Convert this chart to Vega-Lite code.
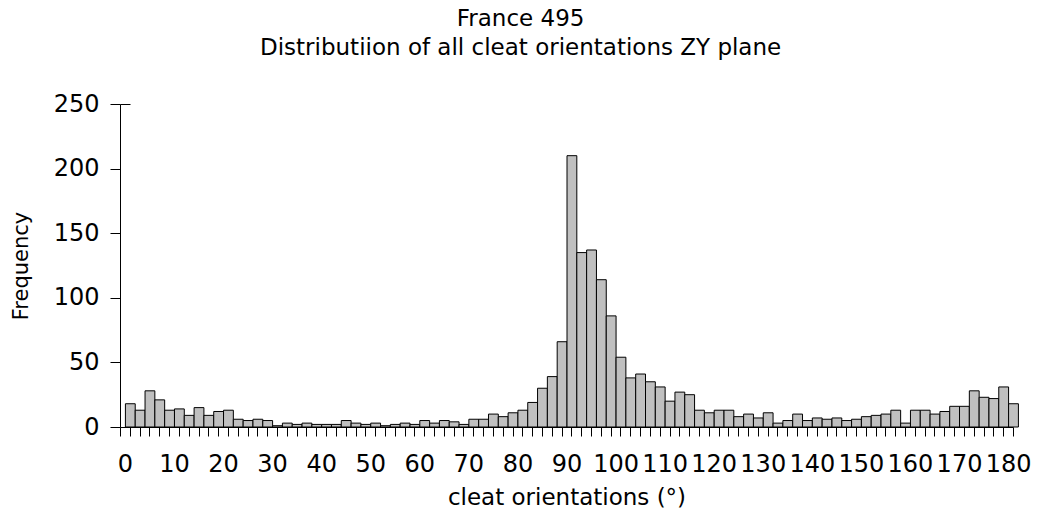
{
  "$schema": "https://vega.github.io/schema/vega-lite/v6.json",
  "autosize": "none",
  "width": 893,
  "height": 323,
  "padding": {"left": 120, "top": 104, "right": 26, "bottom": 88},
  "background": "white",
  "title": {
    "text": ["France 495", "Distributiion of all cleat orientations ZY plane"],
    "font": "DejaVu Sans",
    "fontSize": 23,
    "fontWeight": "normal",
    "lineHeight": 29,
    "color": "black",
    "anchor": "middle",
    "frame": "bounds",
    "offset": 32
  },
  "data": {
    "values": [
      {"o": 0, "n": 18}, {"o": 2, "n": 13}, {"o": 4, "n": 28}, {"o": 6, "n": 21}, {"o": 8, "n": 13},
      {"o": 10, "n": 14}, {"o": 12, "n": 9}, {"o": 14, "n": 15}, {"o": 16, "n": 9}, {"o": 18, "n": 12},
      {"o": 20, "n": 13}, {"o": 22, "n": 6}, {"o": 24, "n": 5}, {"o": 26, "n": 6}, {"o": 28, "n": 5},
      {"o": 30, "n": 1}, {"o": 32, "n": 3}, {"o": 34, "n": 2}, {"o": 36, "n": 3}, {"o": 38, "n": 2},
      {"o": 40, "n": 2}, {"o": 42, "n": 2}, {"o": 44, "n": 5}, {"o": 46, "n": 3}, {"o": 48, "n": 2},
      {"o": 50, "n": 3}, {"o": 52, "n": 1}, {"o": 54, "n": 2}, {"o": 56, "n": 3}, {"o": 58, "n": 2},
      {"o": 60, "n": 5}, {"o": 62, "n": 3}, {"o": 64, "n": 5}, {"o": 66, "n": 4}, {"o": 68, "n": 2},
      {"o": 70, "n": 6}, {"o": 72, "n": 6}, {"o": 74, "n": 10}, {"o": 76, "n": 8}, {"o": 78, "n": 11},
      {"o": 80, "n": 13}, {"o": 82, "n": 19}, {"o": 84, "n": 30}, {"o": 86, "n": 39}, {"o": 88, "n": 66},
      {"o": 90, "n": 210}, {"o": 92, "n": 135}, {"o": 94, "n": 137}, {"o": 96, "n": 114}, {"o": 98, "n": 86},
      {"o": 100, "n": 54}, {"o": 102, "n": 38}, {"o": 104, "n": 41}, {"o": 106, "n": 35}, {"o": 108, "n": 31},
      {"o": 110, "n": 20}, {"o": 112, "n": 27}, {"o": 114, "n": 25}, {"o": 116, "n": 13}, {"o": 118, "n": 11},
      {"o": 120, "n": 13}, {"o": 122, "n": 13}, {"o": 124, "n": 8}, {"o": 126, "n": 10}, {"o": 128, "n": 7},
      {"o": 130, "n": 11}, {"o": 132, "n": 3}, {"o": 134, "n": 5}, {"o": 136, "n": 10}, {"o": 138, "n": 5},
      {"o": 140, "n": 7}, {"o": 142, "n": 6}, {"o": 144, "n": 7}, {"o": 146, "n": 5}, {"o": 148, "n": 6},
      {"o": 150, "n": 8}, {"o": 152, "n": 9}, {"o": 154, "n": 10}, {"o": 156, "n": 13}, {"o": 158, "n": 3},
      {"o": 160, "n": 13}, {"o": 162, "n": 13}, {"o": 164, "n": 10}, {"o": 166, "n": 12}, {"o": 168, "n": 16},
      {"o": 170, "n": 16}, {"o": 172, "n": 28}, {"o": 174, "n": 23}, {"o": 176, "n": 22}, {"o": 178, "n": 31},
      {"o": 180, "n": 18}
    ]
  },
  "encoding": {
    "x": {
      "field": "o",
      "type": "quantitative",
      "bin": {"extent": [-1, 181], "step": 2},
      "scale": {"domain": [-1, 181], "nice": false, "zero": false},
      "axis": {
        "title": "cleat orientations (°)",
        "values": [-1,1,3,5,7,9,11,13,15,17,19,21,23,25,27,29,31,33,35,37,39,41,43,45,47,49,51,53,55,57,59,61,63,65,67,69,71,73,75,77,79,81,83,85,87,89,91,93,95,97,99,101,103,105,107,109,111,113,115,117,119,121,123,125,127,129,131,133,135,137,139,141,143,145,147,149,151,153,155,157,159,161,163,165,167,169,171,173,175,177,179,181],
        "labelExpr": "(datum.value + 1) % 10 == 0 ? format(datum.value + 1, 'd') : ''",
        "labelOffset": 4.9,
        "labelOverlap": false,
        "labelFlush": false,
        "labelBound": false,
        "labelFontSize": 24,
        "tickSize": 9,
        "labelPadding": 16,
        "titlePadding": 10
      }
    },
    "y": {
      "field": "n",
      "type": "quantitative",
      "aggregate": "sum",
      "scale": {"domain": [0, 250], "nice": false}
    }
  },
  "layer": [
    {
      "mark": {"type": "bar", "fill": "#c0c0c0", "stroke": "black", "strokeWidth": 1, "binSpacing": 0},
      "encoding": {
        "y": {
          "field": "n",
          "type": "quantitative",
          "aggregate": "sum",
          "scale": {"domain": [0, 250], "nice": false},
          "axis": {
            "title": "Frequency",
            "values": [0, 50, 100, 150, 200, 250],
            "tickSize": 10,
            "labelPadding": 11,
            "labelFontSize": 24,
            "titleFontSize": 21,
            "titlePadding": 22
          }
        }
      }
    },
    {
      "mark": {"type": "bar", "opacity": 0, "binSpacing": 0},
      "encoding": {
        "y": {
          "field": "n",
          "type": "quantitative",
          "aggregate": "sum",
          "scale": {"domain": [0, 250], "nice": false},
          "axis": {
            "orient": "left",
            "title": null,
            "values": [250],
            "tickSize": -10,
            "labels": false,
            "domain": false
          }
        }
      }
    }
  ],
  "resolve": {"axis": {"y": "independent"}},
  "config": {
    "view": {"stroke": null},
    "axis": {
      "grid": false,
      "domainColor": "black",
      "tickColor": "black",
      "labelColor": "black",
      "titleColor": "black",
      "labelFont": "DejaVu Sans",
      "titleFont": "DejaVu Sans",
      "labelFontSize": 23,
      "titleFontSize": 23,
      "titleFontWeight": "normal",
      "domainWidth": 1,
      "tickWidth": 1
    }
  }
}
